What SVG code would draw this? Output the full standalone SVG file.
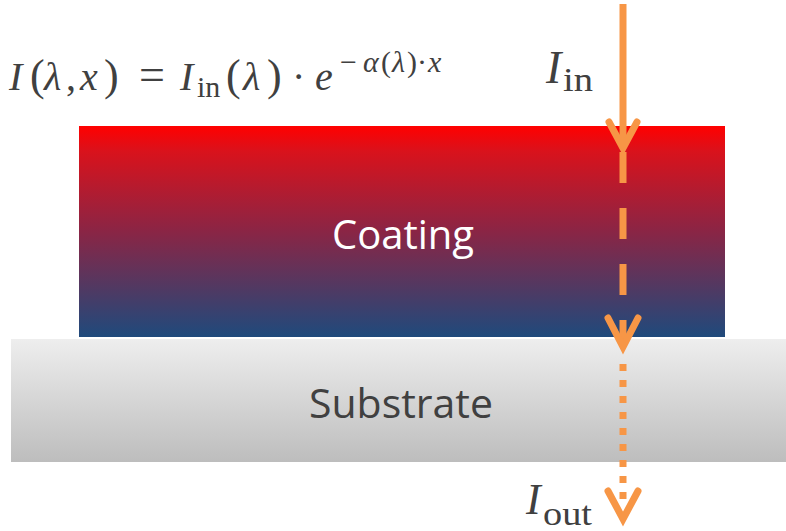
<svg xmlns="http://www.w3.org/2000/svg" width="786" height="531" viewBox="0 0 786 531">
<style>
.math{font-family:"Liberation Serif","DejaVu Serif",serif;fill:#404040;}
.it{font-style:italic;}
.lbl{font-family:"Open Sans","Noto Sans","Liberation Sans",sans-serif;font-size:40px;text-anchor:middle;}
.ray{fill:none;stroke:#f79646;stroke-width:7;}
.head{fill:none;stroke:#f79646;stroke-width:7;stroke-linecap:round;stroke-linejoin:miter;}
</style>
<defs>
<linearGradient id="gCoat" x1="0" y1="0" x2="0" y2="1">
<stop offset="0" stop-color="#ff0000"/>
<stop offset="0.12" stop-color="#d9121c"/>
<stop offset="0.5" stop-color="#8a2545"/>
<stop offset="1" stop-color="#1f4a7c"/>
</linearGradient>
<linearGradient id="gSub" x1="0" y1="0" x2="0" y2="1">
<stop offset="0" stop-color="#eeeeee"/>
<stop offset="1" stop-color="#bdbdbd"/>
</linearGradient>
</defs>
<g id="substrate">
<rect x="11" y="339" width="775" height="123" fill="url(#gSub)"/>
<text class="lbl" x="401" y="418" fill="#404040" font-size="41" textLength="184" lengthAdjust="spacingAndGlyphs">Substrate</text>
</g>
<g id="coating">
<rect x="79" y="126" width="646" height="211" fill="url(#gCoat)"/>
<text class="lbl" x="403" y="249" fill="#ffffff">Coating</text>
</g>
<g id="equation" class="math">
<text y="90" font-size="40"><tspan x="9" class="it">I</tspan><tspan x="30" font-size="44">(</tspan><tspan x="44" class="it">λ</tspan><tspan x="66">,</tspan><tspan x="80" class="it">x</tspan><tspan x="104" font-size="44">)</tspan><tspan x="139" font-size="46">=</tspan><tspan x="180" class="it">I</tspan><tspan x="197" y="97" font-size="30">in</tspan><tspan x="226" y="90" font-size="44">(</tspan><tspan x="243" class="it">λ</tspan><tspan x="267" font-size="44">)</tspan><tspan x="292">·</tspan><tspan x="315" class="it">e</tspan><tspan x="340" y="72" font-size="30">−</tspan><tspan x="363" y="72" font-size="30" class="it">α</tspan><tspan x="381" y="72" font-size="30">(</tspan><tspan x="392" y="72" font-size="30" class="it">λ</tspan><tspan x="407" y="72" font-size="30">)</tspan><tspan x="417" y="72" font-size="30">·</tspan><tspan x="428" y="72" font-size="30" class="it">x</tspan></text>
</g>
<g id="label-in" class="math">
<text x="546" y="83" font-size="46"><tspan class="it">I</tspan><tspan x="563" y="91" font-size="34" textLength="30" lengthAdjust="spacingAndGlyphs">in</tspan></text>
</g>
<g id="label-out" class="math">
<text x="526" y="514" font-size="44"><tspan class="it">I</tspan><tspan x="543" y="525" font-size="34" textLength="49" lengthAdjust="spacingAndGlyphs">out</tspan></text>
</g>
<g id="connectors">
<line class="ray" x1="623" y1="4" x2="623" y2="146"/>
<polyline class="head" points="609,122 623,148 637,122"/>
<line class="ray" x1="623" y1="152" x2="623" y2="345" stroke-dasharray="31 25"/>
<polyline class="head" points="608,318 623,347 638,318"/>
<line class="ray" x1="623" y1="364" x2="623" y2="502" stroke-dasharray="7 9"/>
<polyline class="head" points="608,491 623,519 638,491"/>
</g>
</svg>
